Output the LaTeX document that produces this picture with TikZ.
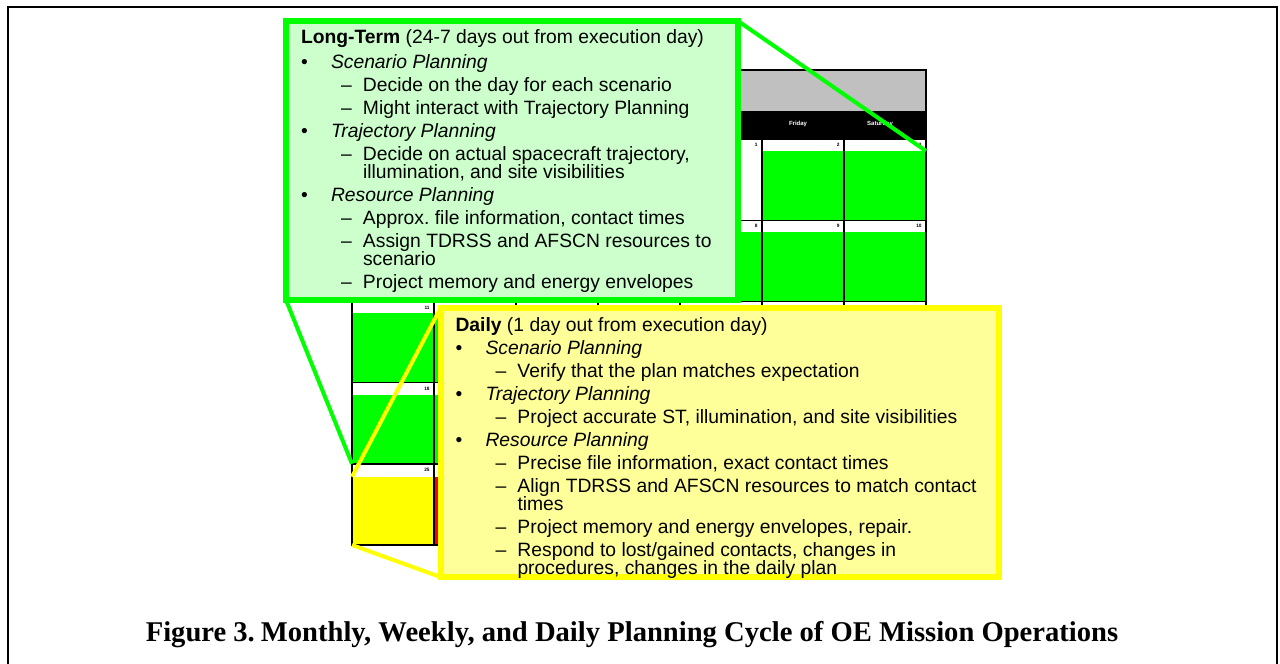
\documentclass[tikz,border=0pt]{standalone}
\usepackage{fontspec}
\setmainfont{Liberation Serif}
\setsansfont{Liberation Sans}
\frenchspacing

\definecolor{calgreen}{RGB}{0,255,0}
\definecolor{calyellow}{RGB}{255,255,0}
\definecolor{calgray}{RGB}{192,192,192}
\definecolor{palegreen}{RGB}{204,255,204}
\definecolor{paleyellow}{RGB}{255,255,153}

\newcommand\bul[1]{\makebox[15pt][l]{\textbullet}\textit{#1}}
\newcommand\subitm[1]{\hspace*{20pt}\makebox[11pt][l]{--}#1}
\newcommand\cont[1]{\hspace*{31pt}#1}
\newcommand\boxtext[4]{\parbox[c][#2][t]{#1}{\raggedright\rule{0pt}{#3}#4}}

\tikzset{
  callbox/.style={rectangle, line width=3pt, outer sep=0pt, inner xsep=7.5pt,
    inner ysep=0pt, anchor=north west,
    font=\sffamily\fontsize{9.65}{9}\selectfont},
  callline/.style={line width=2pt},
  dayname/.style={text=white, inner sep=0pt,
    font=\sffamily\bfseries\fontsize{3}{3}\selectfont},
  daynum/.style={anchor=east, inner sep=0pt,
    font=\sffamily\bfseries\fontsize{2.4}{2.4}\selectfont}
}

\begin{document}
\begin{tikzpicture}[x=0.5pt,y=-0.5pt]
\useasboundingbox (0,0) rectangle (1280,664);
\draw[line width=1pt] (7.5,664) -- (7.5,6.5) -- (1277,6.5) -- (1277,664);

\fill[calgray] (352,70) rectangle (926,111);
\fill (352,111) rectangle (926,139);
\node[dayname] (fri) at (798,124) {Friday};
\node[dayname] (sat) at (880,124) {Saturday};
\fill[calgreen] (762,151) rectangle (926,220.2);
\foreach \r in {1,2,3}
  \fill[calgreen] (352,151+81.2*\r) rectangle (926,220.2+81.2*\r);
\fill[calyellow] (352,476.8) rectangle (434,545);
\fill[red] (434,476.8) rectangle (516,545);
\foreach \day/\c/\r in {1/4/0,2/5/0,3/6/0,8/4/1,9/5/1,10/6/1,11/0/2,18/0/3,25/0/4}
  \node[daynum] (d\day) at (430+82*\c,145+81.2*\r) {\day};
\begin{scope}[line width=0.7pt]
\draw (352,70) rectangle (926,545);
\foreach \r in {0,...,4}
  \draw (352,139+81.2*\r) -- (926,139+81.2*\r);
\foreach \c in {1,...,6}
  \draw (352+82*\c,139) -- (352+82*\c,545);
\end{scope}

\coordinate (sat3) at (926,151);
\coordinate (sun18) at (352,463.8);
\coordinate (sun25a) at (352,476.8);
\coordinate (sun25b) at (352,545);

\node[callbox, draw=calgreen, fill=palegreen] (longterm) at (286,21)
  {\boxtext{211pt}{139.5pt}{11.3pt}{%
\textbf{Long-Term} (24-7 days out from execution day)\\[2.5pt]
\bul{Scenario Planning}\\[2.5pt]
\subitm{Decide on the day for each scenario}\\[2.5pt]
\subitm{Might interact with Trajectory Planning}\\[2.5pt]
\bul{Trajectory Planning}\\[2.5pt]
\subitm{Decide on actual spacecraft trajectory,}\\
\cont{illumination, and site visibilities}\\[2.5pt]
\bul{Resource Planning}\\[2.5pt]
\subitm{Approx. file information, contact times}\\[2.5pt]
\subitm{Assign TDRSS and AFSCN resources to}\\
\cont{scenario}\\[2.5pt]
\subitm{Project memory and energy envelopes}}};

\node[callbox, draw=calyellow, fill=paleyellow] (daily) at (440.5,308)
  {\boxtext{264.25pt}{134.5pt}{11.6pt}{%
\textbf{Daily} (1 day out from execution day)\\[2.5pt]
\bul{Scenario Planning}\\[2.5pt]
\subitm{Verify that the plan matches expectation}\\[2.5pt]
\bul{Trajectory Planning}\\[2.5pt]
\subitm{Project accurate ST, illumination, and site visibilities}\\[2.5pt]
\bul{Resource Planning}\\[2.5pt]
\subitm{Precise file information, exact contact times}\\[2.5pt]
\subitm{Align TDRSS and AFSCN resources to match contact}\\
\cont{times}\\[2.5pt]
\subitm{Project memory and energy envelopes, repair.}\\[2.5pt]
\subitm{Respond to lost/gained contacts, changes in}\\
\cont{procedures, changes in the daily plan}}};

\draw[callline, calgreen] (longterm.north east) -- (sat3);
\draw[callline, calgreen] (longterm.south west) -- (sun18);
\draw[callline, calyellow] (daily.north west) -- (sun25a);
\draw[callline, calyellow] (daily.south west) -- (sun25b);

\node[font=\bfseries\fontsize{14.3}{14.3}\selectfont] (caption) at (632,635)
  {Figure 3.\hspace{3pt}Monthly, Weekly, and Daily Planning Cycle of OE Mission Operations};
\end{tikzpicture}
\end{document}
